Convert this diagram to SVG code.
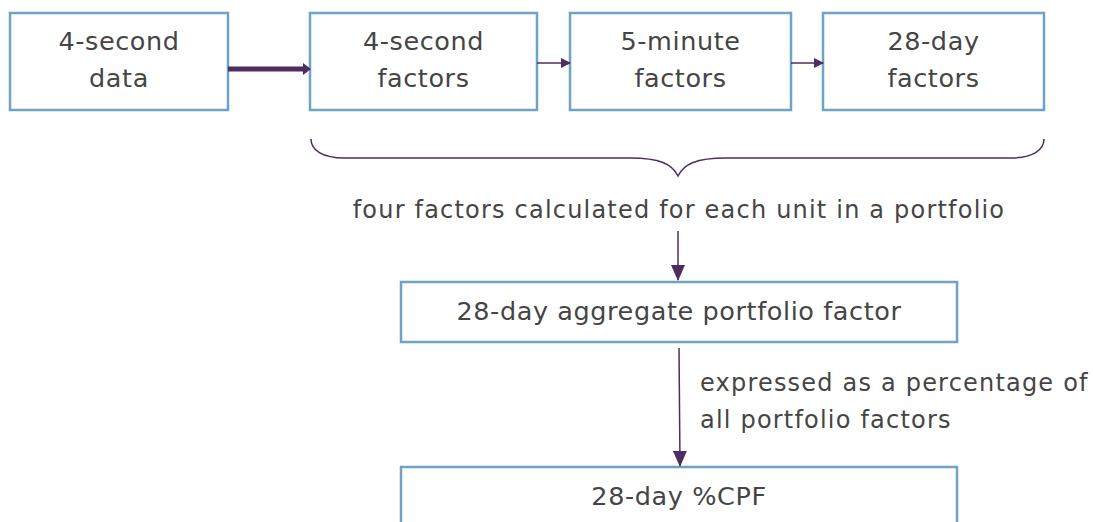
<svg xmlns="http://www.w3.org/2000/svg" width="1093" height="522" viewBox="0 0 1093 522">
<defs>
<style>
.box{fill:#fff;stroke:#6fa3c4;stroke-width:2.5}
.t{font-family:"DejaVu Sans","Open Sans",sans-serif;font-size:25.5px;letter-spacing:0.6px;fill:#454545;text-anchor:middle}
.l{font-family:"DejaVu Sans","Open Sans",sans-serif;font-size:24px;letter-spacing:1.2px;fill:#454545}
.c{stroke:#4e2d63;stroke-width:1.5;fill:none}
</style>
<marker id="ah" markerWidth="10" markerHeight="10" refX="9" refY="5" orient="auto" markerUnits="userSpaceOnUse" viewBox="0 0 10 10">
<path d="M0,0 L10,5 L0,10 z" fill="#4e2d63"/>
</marker>
<marker id="ahs" markerWidth="16" markerHeight="14" refX="15" refY="7" orient="auto" markerUnits="userSpaceOnUse" viewBox="0 0 16 14">
<path d="M0,0 L16,7 L0,14 z" fill="#4e2d63"/>
</marker>
</defs>
<rect width="1093" height="522" fill="#fff"/>
<g id="n1"><rect class="box" x="10" y="13" width="218" height="97"/><text class="t" x="119" y="50">4-second</text><text class="t" x="119" y="87">data</text></g>
<g id="n2"><rect class="box" x="310" y="13" width="227" height="97"/><text class="t" x="423.5" y="50">4-second</text><text class="t" x="423.5" y="87">factors</text></g>
<g id="n3"><rect class="box" x="570" y="13" width="221" height="97"/><text class="t" x="680.5" y="50">5-minute</text><text class="t" x="680.5" y="87">factors</text></g>
<g id="n4"><rect class="box" x="823" y="13" width="221" height="97"/><text class="t" x="933.5" y="50">28-day</text><text class="t" x="933.5" y="87">factors</text></g>
<g id="n5"><rect class="box" x="401" y="282" width="556" height="60"/><text class="t" x="679" y="320">28-day aggregate portfolio factor</text></g>
<g id="n6"><rect class="box" x="401" y="467" width="556" height="70"/><text class="t" x="679" y="505">28-day %CPF</text></g>
<g id="connectors">
<line x1="228" y1="69" x2="305" y2="69" stroke="#4e2d63" stroke-width="5"/>
<path d="M303,63 L311,69 L303,75 z" fill="#4e2d63"/>
<line class="c" x1="537" y1="63" x2="570" y2="63" marker-end="url(#ah)"/>
<line class="c" x1="791" y1="63" x2="823" y2="63" marker-end="url(#ah)"/>
<path class="c" d="M311,139 C311,150 322,158 345,158 L630,158 C660,158 672,164 678,176 C684,164 696,158 726,158 L1010,158 C1033,158 1044,150 1044,139"/>
<text class="l" x="679" y="218" text-anchor="middle">four factors calculated for each unit in a portfolio</text>
<line class="c" x1="678" y1="231" x2="678" y2="280" marker-end="url(#ahs)"/>
<line class="c" x1="679" y1="348" x2="680" y2="466" marker-end="url(#ahs)"/>
<text class="l" x="700" y="391">expressed as a percentage of</text>
<text class="l" x="700" y="428">all portfolio factors</text>
</g>
</svg>
